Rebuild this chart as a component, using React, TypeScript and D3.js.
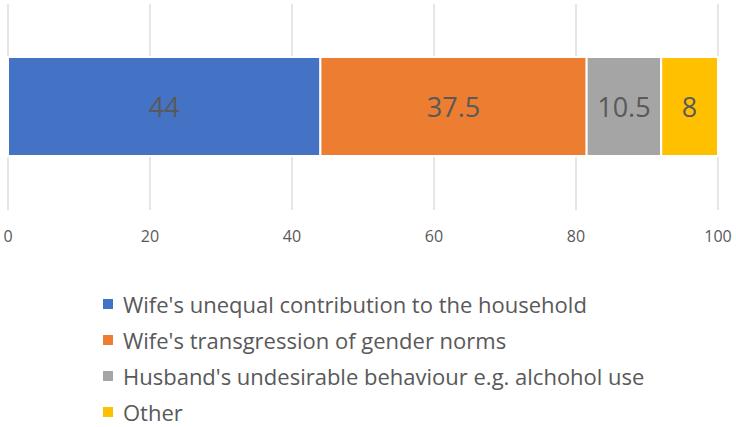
import React, { useEffect, useRef } from "react";
import * as d3 from "d3";

const categories = [
  "Wife's unequal contribution to the household",
  "Wife's transgression of gender norms",
  "Husband's undesirable behaviour e.g. alchohol use",
  "Other",
];
const values = [44, 37.5, 10.5, 8];
const colors = ["#4472C4", "#ED7D31", "#A5A5A5", "#FFC000"];
const ticks = [0, 20, 40, 60, 80, 100];

const W = 736;
const H = 427;
const FONT = "'Open Sans', Lato, sans-serif";

const App = () => {
  const ref = useRef<SVGSVGElement>(null);

  useEffect(() => {
    const svg = d3.select(ref.current);
    svg.selectAll("*").remove();

    const x = d3.scaleLinear().domain([0, 100]).range([8, 718]);
    const y = d3.scaleBand().domain(["bar"]).range([57, 156]).padding(0);

    // gridlines
    svg
      .append("g")
      .selectAll("line")
      .data(ticks)
      .join("line")
      .attr("x1", d => x(d))
      .attr("x2", d => x(d))
      .attr("y1", 4)
      .attr("y2", 210)
      .attr("stroke", "#d9d9d9")
      .attr("stroke-width", 1.3);

    // stacked segments
    const starts = d3.cumsum([0, ...values.slice(0, -1)]);
    const segs = values.map((v, i) => ({ v, start: starts[i], color: colors[i] }));

    const g = svg.append("g");
    g.selectAll("rect")
      .data(segs)
      .join("rect")
      .attr("x", d => x(d.start))
      .attr("width", d => x(d.start + d.v) - x(d.start))
      .attr("y", y("bar")!)
      .attr("height", y.bandwidth())
      .attr("fill", d => d.color)
      .attr("stroke", "#fff")
      .attr("stroke-width", 2);

    g.selectAll("text")
      .data(segs)
      .join("text")
      .attr("x", d => x(d.start + d.v / 2))
      .attr("y", y("bar")! + y.bandwidth() / 2)
      .attr("text-anchor", "middle")
      .attr("dominant-baseline", "central")
      .style("font-family", FONT)
      .style("font-size", "27px")
      .style("fill", "#595959")
      .text(d => d3.format("")(d.v));

    // axis labels
    svg
      .append("g")
      .selectAll("text")
      .data(ticks)
      .join("text")
      .attr("x", d => x(d))
      .attr("y", 236)
      .attr("text-anchor", "middle")
      .attr("dominant-baseline", "central")
      .style("font-family", FONT)
      .style("font-size", "16px")
      .style("fill", "#595959")
      .text(d => d);

    // legend
    const legY = d3.scalePoint().domain(categories).range([304, 412]);
    const leg = svg
      .append("g")
      .selectAll("g")
      .data(categories)
      .join("g")
      .attr("transform", d => `translate(103,${legY(d)})`);

    leg
      .append("rect")
      .attr("x", 0)
      .attr("y", -5)
      .attr("width", 10)
      .attr("height", 10)
      .attr("fill", (d, i) => colors[i]);

    leg
      .append("text")
      .attr("x", 20)
      .attr("y", 0)
      .attr("dominant-baseline", "central")
      .style("font-family", FONT)
      .style("font-size", "22px")
      .style("fill", "#595959")
      .text(d => d);
  }, []);

  return (
    <svg
      ref={ref}
      width={W}
      height={H}
      style={{ position: "absolute", left: 0, top: 0, background: "#fff" }}
    />
  );
};

export default App;
